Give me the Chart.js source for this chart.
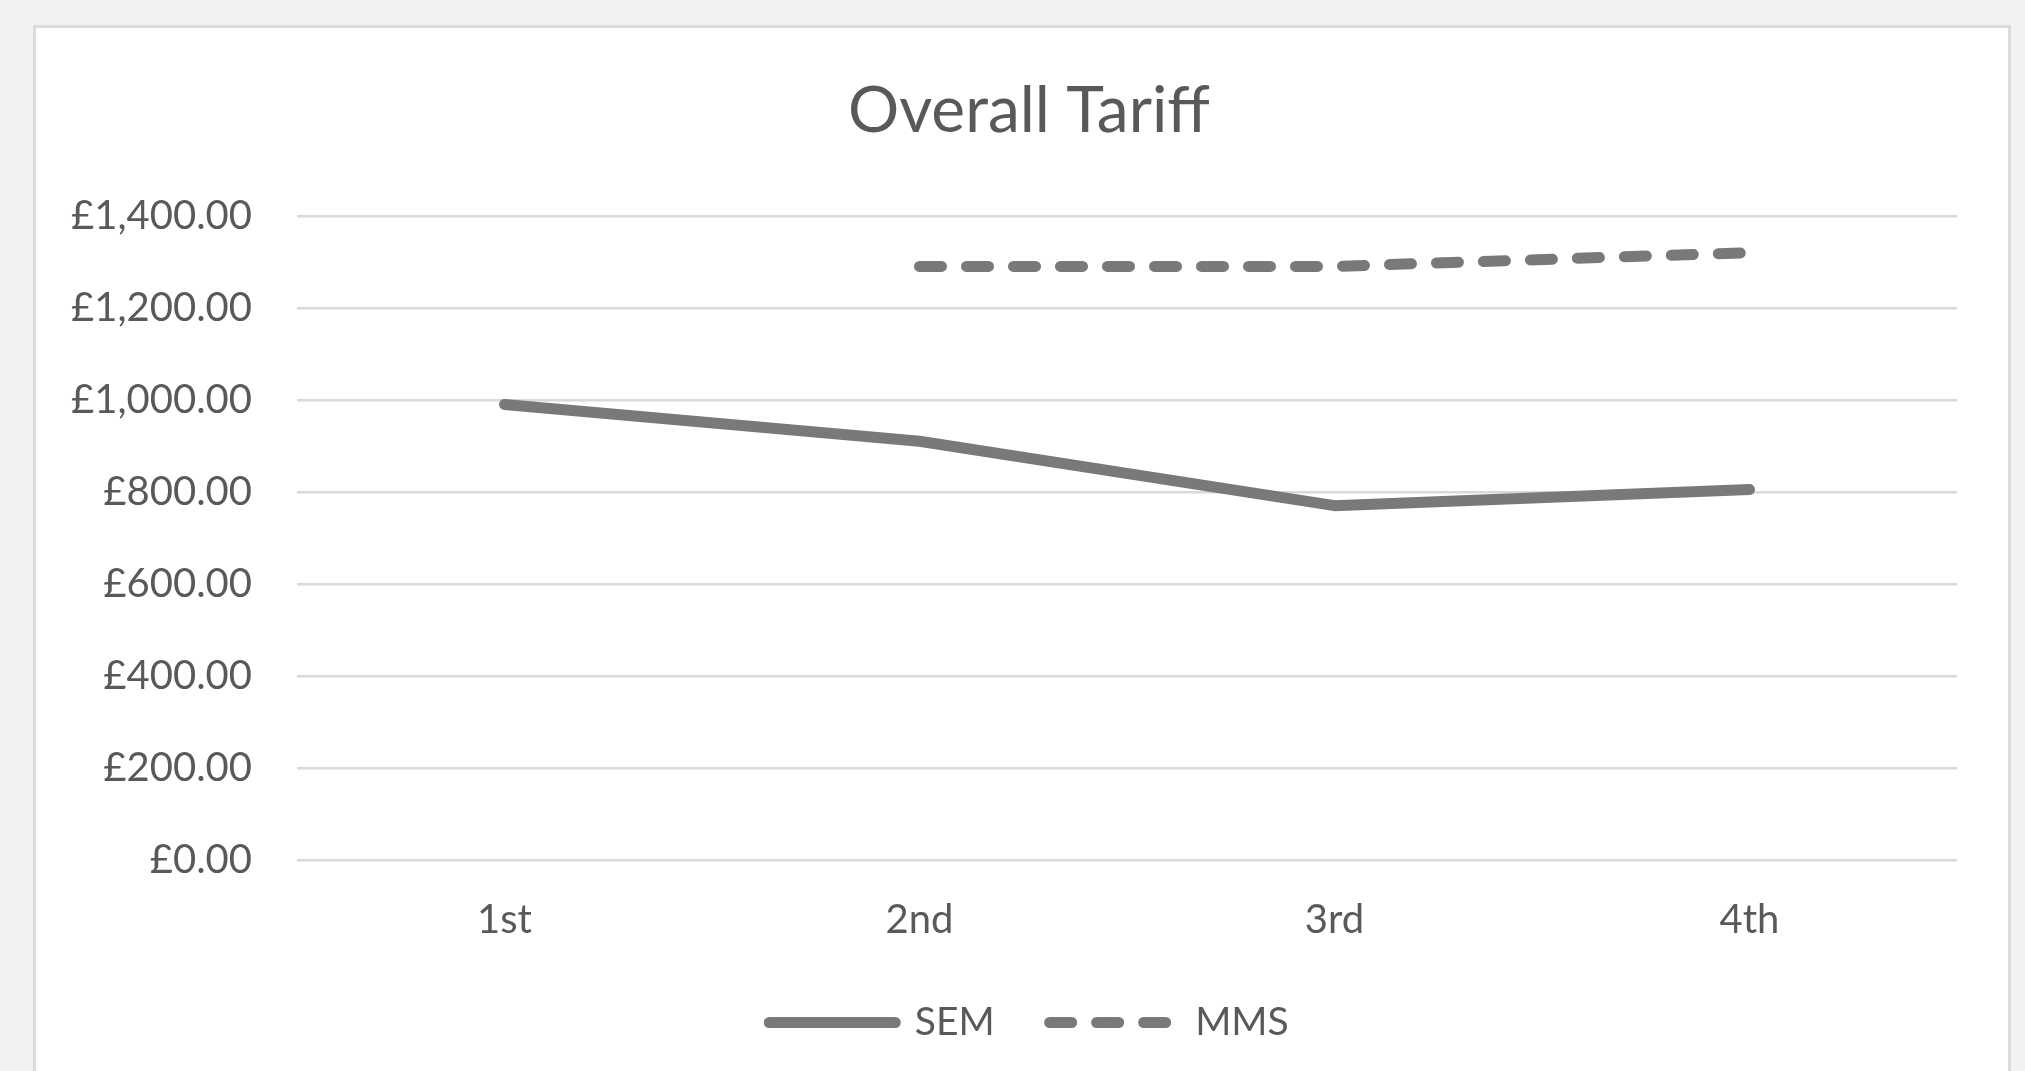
<!DOCTYPE html>
<html>
<head>
<meta charset="utf-8">
<script src="https://cdn.jsdelivr.net/npm/chart.js@4.4.1/dist/chart.umd.min.js"></script>
<style>
  html, body { margin: 0; padding: 0; background: #f2f2f2; overflow: hidden; }
  #panel { position: absolute; left: 33px; top: 25px; width: 1978px; height: 1100px;
           background: #ffffff; border: 3px solid #dcdcdc; box-sizing: border-box; }
  #wrap { position: absolute; left: 0; top: 0; width: 2025px; height: 1071px; }
</style>
</head>
<body>
<div id="panel"></div>
<div id="wrap"><canvas id="lineChart" width="2025" height="1071"></canvas></div>
<script>
// data
var categorias = ["1st", "2nd", "3rd", "4th"];
var valoresSEM = [990, 910, 770, 805];
var valoresMMS = [null, 1290, 1290, 1320];
var ticksY = [0, 200, 400, 600, 800, 1000, 1200, 1400];

var gris = '#797979';
var texto = '#595959';

function moneda(v) {
    return '£' + Number(v).toLocaleString('en-GB', { minimumFractionDigits: 2, maximumFractionDigits: 2 });
}

// let the y labels run further left than the layout padding
var sinRecorte = {
    id: 'sinRecorte',
    afterLayout: function (chart) {
        chart.scales.y.left = 0;
    }
};

function Linea(cv_linea) {
    if (cv_linea) {
        new Chart(cv_linea, {
            type: 'line',
            data: {
                labels: categorias,
                datasets: [
                    {
                        label: 'SEM',
                        data: valoresSEM,
                        borderColor: gris,
                        backgroundColor: gris,
                        borderWidth: 11,
                        borderCapStyle: 'round',
                        borderJoinStyle: 'round',
                        tension: 0,
                        pointRadius: 0,
                        fill: false
                    },
                    {
                        label: 'MMS',
                        data: valoresMMS,
                        borderColor: gris,
                        backgroundColor: gris,
                        borderWidth: 11,
                        borderDash: [22, 25],
                        borderCapStyle: 'round',
                        borderJoinStyle: 'round',
                        tension: 0,
                        pointRadius: 0,
                        fill: false
                    }
                ]
            },
            plugins: [sinRecorte],
            options: {
                responsive: false,
                animation: false,
                devicePixelRatio: 1,
                layout: {
                    padding: { left: 101, right: 68, top: 0, bottom: 19 }
                },
                plugins: {
                    legend: {
                        display: true,
                        position: 'bottom',
                        labels: {
                            usePointStyle: true,
                            pointStyle: 'line',
                            pointStyleWidth: 126,
                            boxHeight: 39,
                            padding: 55,
                            color: texto,
                            font: { family: 'Lato', size: 39 },
                            generateLabels: function (chart) {
                                var items = Chart.defaults.plugins.legend.labels.generateLabels(chart);
                                items.forEach(function (it) {
                                    var ds = chart.data.datasets[it.datasetIndex];
                                    it.lineDash = ds.borderDash || [];
                                    it.lineCap = 'round';
                                    it.lineWidth = ds.borderWidth;
                                    it.strokeStyle = ds.borderColor;
                                });
                                return items;
                            }
                        }
                    },
                    title: {
                        display: true,
                        text: 'Overall Tariff',
                        color: texto,
                        font: { family: 'Lato', size: 64, weight: 'normal', lineHeight: 1.2 },
                        padding: { top: 73, bottom: 66 }
                    },
                    tooltip: { enabled: false }
                },
                scales: {
                    x: {
                        offset: true,
                        grid: { display: false, drawTicks: false },
                        border: { display: false },
                        ticks: {
                            color: texto,
                            padding: 36,
                            font: { family: 'Lato', size: 40 }
                        },
                        afterFit: function (eje) { eje.height = 88; }
                    },
                    y: {
                        min: 0,
                        max: 1400,
                        grid: { color: '#d9d9d9', lineWidth: 2.5, drawTicks: false },
                        border: { display: false },
                        ticks: {
                            color: texto,
                            padding: 45,
                            font: { family: 'Lato', size: 40 },
                            callback: function (v) { return moneda(v); }
                        },
                        afterBuildTicks: function (eje) {
                            eje.ticks = ticksY.map(function (v) { return { value: v }; });
                        },
                        afterFit: function (eje) { eje.width = 196; }
                    }
                }
            }
        });
    }
}

var cvS_linea = document.getElementById("lineChart");

Linea(cvS_linea);
</script>
</body>
</html>
